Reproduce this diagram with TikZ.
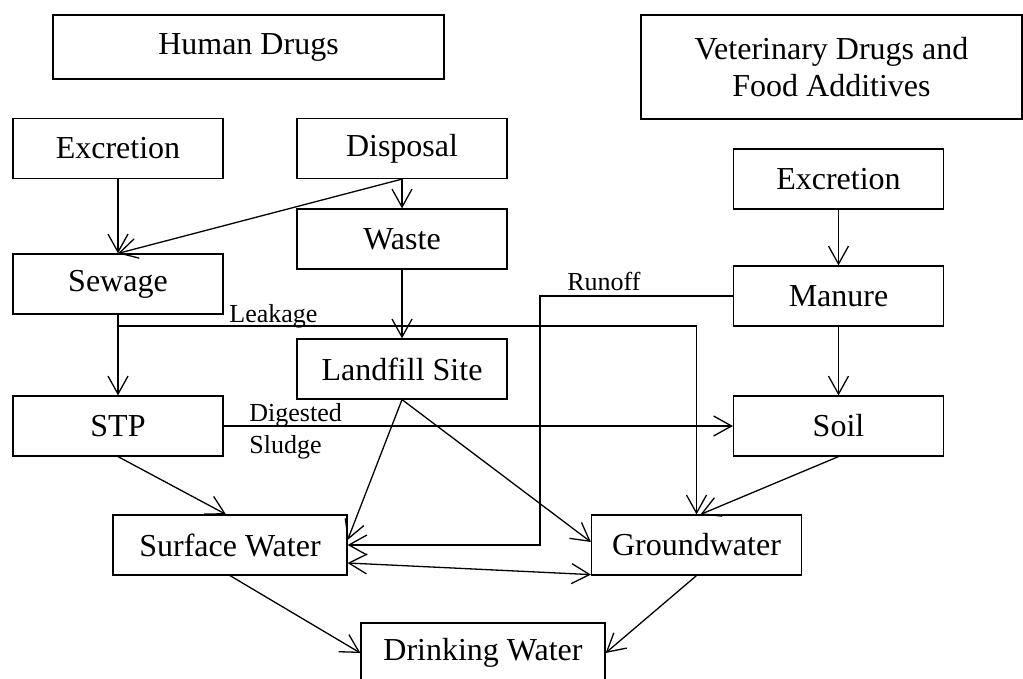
\documentclass[tikz,border=0pt]{standalone}
\usepackage{fontspec}
\setmainfont{Liberation Serif}
\usetikzlibrary{arrows.meta}
\tikzset{
  box/.style={draw,line width=.6pt,minimum width=105pt,minimum height=30pt,inner sep=2pt,font=\fontsize{16}{18.5}\selectfont},
  lbl/.style={inner sep=0pt,font=\fontsize{13}{16}\selectfont},
  flow/.style={line width=.65pt,>={Straight Barb[length=9pt,width=10pt]},->},
  link/.style={line width=.65pt}
}

\begin{document}
\begin{tikzpicture}[x=0.5pt,y=-0.5pt]
  \useasboundingbox (0,0) rectangle (1023,679);
  % sources
  \node[box,minimum width=195.5pt,minimum height=32pt] (hd) at (248.5,47) {Human Drugs};
  \node[box,minimum width=190.5pt,minimum height=52pt,align=center] (vd) at (831.5,67) {Veterinary Drugs and\\Food Additives};
  % human side
  \node[box] (exh) at (118,148.5) {Excretion};
  \node[box] (dis) at (402,148.5) {Disposal};
  \node[box] (wst) at (402,239) {Waste};
  \node[box] (sew) at (118,284) {Sewage};
  \node[box] (lfs) at (402,369) {Landfill Site};
  \node[box] (stp) at (118,426) {STP};
  % veterinary side
  \node[box] (exv) at (838.5,179) {Excretion};
  \node[box] (man) at (838.5,296) {Manure};
  \node[box] (soil) at (838.5,426) {Soil};
  % water
  \node[box,minimum width=117pt] (sw) at (230,545) {Surface Water};
  \node[box] (gw) at (696.5,545) {Groundwater};
  \node[box,minimum width=122pt] (dw) at (483,653) {Drinking Water};
  % labels on the lines
  \node[lbl,anchor=base west] (lkl) at (229,322) {Leakage};
  \node[lbl,anchor=base west] (rnl) at (567,291) {Runoff};
  \node[lbl,anchor=west,align=left] (dsl) at (249,431) {Digested\\Sludge};
  \coordinate (lk) at (118,326);
  \coordinate (rn) at (540,296);

  \draw[flow] (exh) -- (sew);
  \draw[flow] (dis.south) -- (sew.north);
  \draw[flow] (dis) -- (wst);
  \draw[flow] (wst) -- (lfs);
  \draw[flow] (sew) -- (stp);
  \draw[flow] (lk) -| (gw.north);
  \draw[flow] (stp) -- (soil);
  \draw[flow] (exv) -- (man);
  \draw[flow] (man) -- (soil);
  \draw[flow] (man.west) -- (rn) |- (sw.east);
  \draw[flow] (soil.south) -- ([xshift=2pt]gw.north);
  \draw[flow] (stp.south) -- ([xshift=-2pt]sw.north);
  \draw[flow] (lfs.south) -- ([yshift=2.5pt]sw.east);
  \draw[flow] (lfs.south) -- ([yshift=1.5pt]gw.west);
  \draw[flow,<->] ([yshift=-9pt]sw.east) -- ([yshift=.5pt]gw.south west);
  \draw[flow] (sw.south) -- (dw.west);
  \draw[flow] (gw.south) -- (dw.east);
\end{tikzpicture}
\end{document}
